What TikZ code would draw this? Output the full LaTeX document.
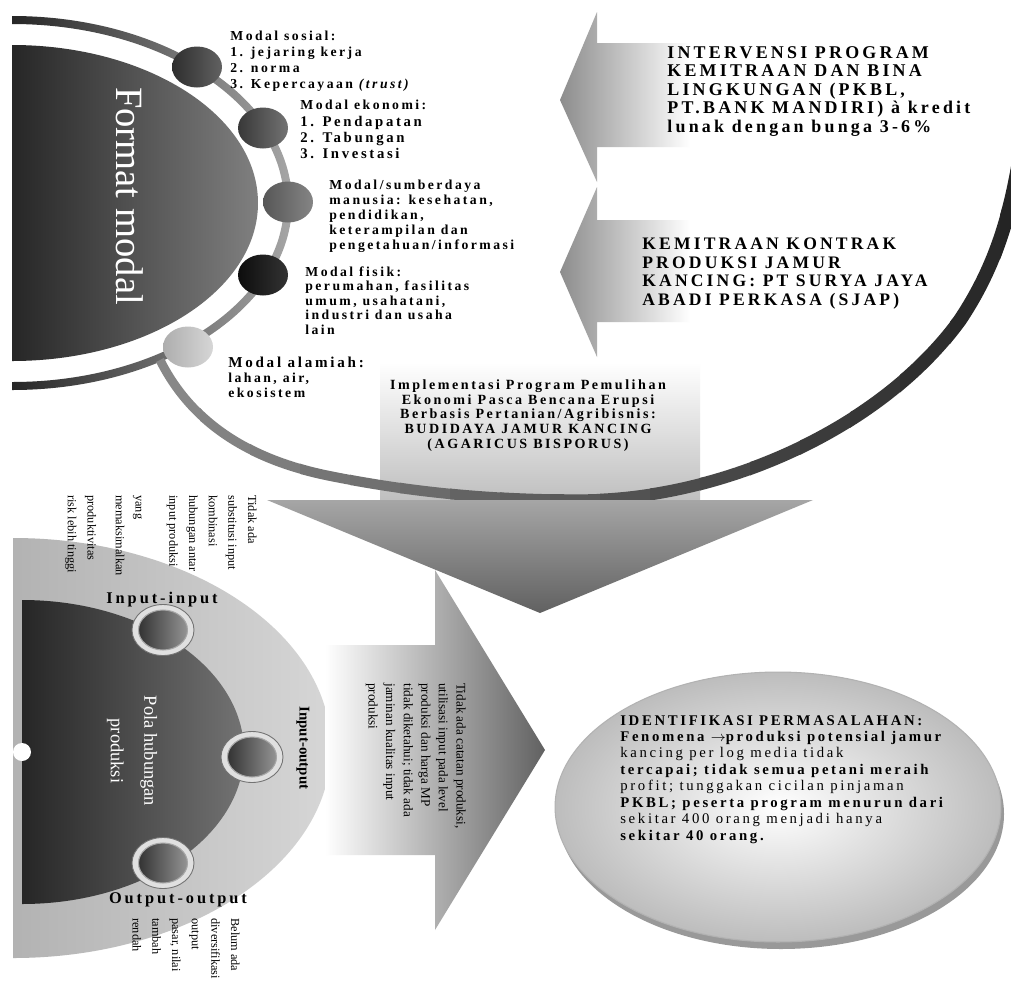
\documentclass[tikz,border=0pt]{standalone}
\usepackage{fontspec}
\setmainfont{Liberation Serif}
\newfontfamily\spaced[LetterSpace=18]{Liberation Serif}
\usetikzlibrary{positioning,shapes.geometric}

\newcommand\setfs[2]{\fontsize{#1}{#2}\selectfont}
% lower sweep of the outer ring, reused for the shaded strips
\newcommand\sweeppath{(160,360) .. controls (195,430) and (260,462) .. (330,476) .. controls (420,494) and (500,500) .. (580,500) .. controls (720,500) and (880,430) .. (960,320) .. controls (1000,260) and (1015,200) .. (1025,120)}

\begin{document}
\begin{tikzpicture}[x=0.02cm, y=-0.02cm,
    lbl/.style={inner sep=0pt, anchor=north west, align=left},
    bead/.style={ellipse, inner sep=0pt, minimum width=1cm, minimum height=0.82cm},
    hub/.style={ellipse, inner sep=0pt, minimum width=1.24cm, minimum height=1.02cm, fill=black!12, draw=black!55, line width=0.5pt},
    hubcore/.style={ellipse, inner sep=0pt, minimum width=0.98cm, minimum height=0.8cm, left color=black!80, right color=black!42, draw=black!35, line width=0.6pt},
    turned/.style={rotate=-90, inner sep=0pt, anchor=north west, align=left, font=\setfs{7}{11.2}},
  ]
  \useasboundingbox (0,0) rectangle (1011,998);
  \fill[white] (0,0) rectangle (1011,998);

  % ring round the capital disk
  \shade[left color=black!85, right color=black!35] (12,16) arc[start angle=-90, end angle=90, x radius=280, y radius=187]
    -- (12,382) arc[start angle=90, end angle=-90, x radius=272, y radius=179] -- cycle;

  % capital disk
  \shade[left color=black!85, right color=black!50] (12,45) arc[start angle=-90, end angle=90, x radius=246, y radius=158] -- cycle;
  \node[rotate=-90, text=white, font=\setfs{22}{24}] (capital) at (130,196) {Format modal};

  % body of the big arrow pointing down
  \shade[top color=white, bottom color=black!25] (380,362) rectangle (700,500);

  % outer sweep, shaded strip by strip, heavier towards the right
  \foreach \x [evaluate=\x as \k using {int(40+0.047*\x)}, evaluate=\x as \w using {0.16+0.00012*\x}] in {0,50,...,1000}{
    \begin{scope}
      \clip (\x,0) rectangle (\x+52,998);
      \draw[line width=\w cm, black!\k] \sweeppath;
    \end{scope}
  }

  % beads on the ring
  \node[bead, left color=black!82, right color=black!62] (social) at (197,67) {};
  \node[bead, left color=black!78, right color=black!55] (economic) at (263,128) {};
  \node[bead, left color=black!66, right color=black!48] (human) at (288,202) {};
  \node[bead, left color=black!95, right color=black!80] (physical) at (263,275) {};
  \node[bead, left color=black!32, right color=black!16] (natural) at (188,347) {};

  \node[lbl, font=\spaced\bfseries\setfs{7.8}{9.1}] (sociallbl) at (230,31)
    {Modal sosial:\\1. jejaring kerja\\2. norma\\3. Kepercayaan \textit{(trust)}};
  \node[lbl, font=\spaced\bfseries\setfs{8.4}{9.2}] (economiclbl) at (300,100)
    {{\setfs{7.8}{9.2}Modal ekonomi:}\\1. Pendapatan\\2. Tabungan\\3. Investasi};
  \node[lbl, font=\spaced\bfseries\setfs{7.8}{8.5}] (humanlbl) at (329,180)
    {Modal/sumberdaya\\manusia: kesehatan,\\pendidikan,\\keterampilan dan\\pengetahuan/informasi};
  \node[lbl, font=\spaced\bfseries\setfs{7.8}{8.3}] (physicallbl) at (305,266)
    {Modal fisik:\\perumahan, fasilitas\\umum, usahatani,\\industri dan usaha\\lain};
  \node[lbl, font=\spaced\bfseries\setfs{7.8}{8.5}] (naturallbl) at (228,357)
    {{\setfs{8.6}{8.5}Modal alamiah:}\\lahan, air,\\ekosistem};

  % arrows coming in from the right
  \shade[left color=black!45, right color=white] (560,100) -- (597,12) -- (597,43) -- (690,43)
    -- (690,147) -- (597,147) -- (597,182) -- cycle;
  \shade[left color=black!45, right color=white] (560,272) -- (597,187) -- (597,220) -- (690,220)
    -- (690,322) -- (597,322) -- (597,357) -- cycle;
  \node[lbl, font=\spaced\bfseries\setfs{10.2}{10.5}] (pkbl) at (667,46)
    {INTERVENSI PROGRAM\\KEMITRAAN DAN BINA\\LINGKUNGAN (PKBL,\\PT.BANK MANDIRI) à kredit\\lunak dengan bunga 3-6\%};
  \node[lbl, font=\spaced\bfseries\setfs{10}{10.5}] (sjap) at (642,238)
    {KEMITRAAN KONTRAK\\PRODUKSI JAMUR\\KANCING: PT SURYA JAYA\\ABADI PERKASA (SJAP)};

  % head of the big arrow pointing down
  \shade[top color=black!35, bottom color=black!62] (267,500) -- (813,500) -- (540,613) -- cycle;
  \node[inner sep=0pt, anchor=north, align=center, font=\spaced\bfseries\setfs{8}{8.5}] (relief) at (528,379)
    {Implementasi Program Pemulihan\\Ekonomi Pasca Bencana Erupsi\\Berbasis Pertanian/Agribisnis:\\BUDIDAYA JAMUR KANCING\\(AGARICUS BISPORUS)};

  % production half disk
  \shade[left color=black!30, right color=black!16] (13,538) arc[start angle=-90, end angle=90, x radius=318, y radius=210] -- cycle;
  \shade[left color=black!85, right color=black!55] (22,600) arc[start angle=-90, end angle=90, x radius=222, y radius=152] -- cycle;
  \fill[white] (22,752) circle[radius=9];
  \node[rotate=-90, text=white, align=center, font=\setfs{10.5}{19}] (pattern) at (132,751) {Pola hubungan\\produksi};

  \node[hub] (inputs) at (163,630) {};
  \node[hubcore] at (inputs) {};
  \node[hub] (inout) at (252,757) {};
  \node[hubcore] at (inout) {};
  \node[hub] (outputs) at (163,863) {};
  \node[hubcore] at (outputs) {};

  \node[font=\spaced\bfseries\setfs{9.3}{10}] (inputslbl) at (162,600) {Input-input};
  \node[font=\spaced\bfseries\setfs{9.3}{10}] (outputslbl) at (178,900) {Output-output};
  \node[rotate=-90, font=\bfseries\setfs{8.5}{9}] (inoutlbl) at (303,748) {Input-output};

  \node[turned] (substitution) at (257,495)
    {Tidak ada\\substitusi input\\kombinasi\\hubungan antar\\input produksi\\[8pt]yang\\memaksimalkan\\[5pt]produktivitas\\risk lebih tinggi};
  \node[turned] (diversity) at (240,918)
    {Belum ada\\diversifikasi\\output\\pasar, nilai\\tambah\\rendah};

  % arrow pointing right
  \shade[left color=white, right color=black!62] (325,645) -- (435,645) -- (435,570) -- (545,750)
    -- (435,930) -- (435,855) -- (325,855) -- cycle;
  \node[turned, font=\setfs{7.5}{10}] (records) at (466,683)
    {Tidak ada catatan produksi,\\utilisasi input pada level\\produksi dan harga MP\\tidak diketahui; tidak ada\\jaminan kualitas input\\produksi};

  % problem ellipse with its shadow
  \fill[black!40] (781,814) ellipse[x radius=223, y radius=135];
  \node[ellipse, inner sep=0pt, minimum width=8.92cm, minimum height=5.4cm, inner color=white, outer color=black!26, draw=black!30, line width=0.6pt] (problem) at (778,807) {};
  \node[lbl, font=\spaced\bfseries\setfs{8.4}{9.35}] (problemtxt) at (620,715)
    {IDENTIFIKASI PERMASALAHAN:\\
     Fenomena {\rmfamily\mdseries$\rightarrow$}produksi potensial jamur\\
     {\mdseries kancing per log media tidak}\\
     tercapai; tidak semua petani meraih\\
     {\mdseries profit; tunggakan cicilan pinjaman}\\
     PKBL; peserta program menurun dari\\
     {\mdseries sekitar 400 orang menjadi hanya}\\
     sekitar 40 orang.};
\end{tikzpicture}
\end{document}
